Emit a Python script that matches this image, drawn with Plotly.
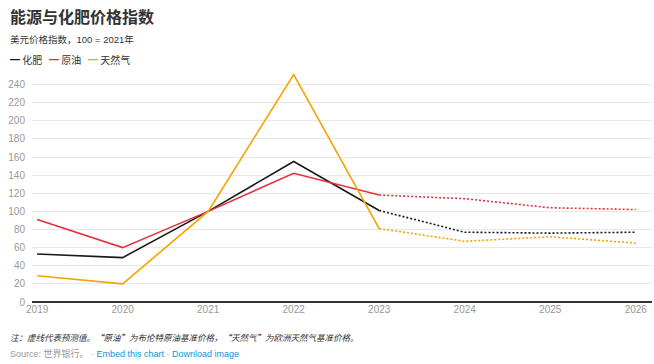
import plotly.graph_objects as go

years = [2019, 2020, 2021, 2022, 2023, 2024, 2025, 2026]
fertilizer = [53, 49, 100, 155, 101, 77, 76, 77]
crude_oil = [91, 60, 100, 142, 118, 114, 104, 102]
natural_gas = [29, 20, 100, 251, 81, 67, 72, 65]
y_ticks = [0, 20, 40, 60, 80, 100, 120, 140, 160, 180, 200, 220, 240]
forecast_start = 4  # index of 2023

series = [
    ("化肥", fertilizer, "#1a1a1a"),
    ("原油", crude_oil, "#e5303e"),
    ("天然气", natural_gas, "#f5a300"),
]

FONT = "Liberation Sans, Arial, Noto Sans CJK SC, sans-serif"
CJK = "Noto Sans CJK SC, Noto Sans, Arial, sans-serif"
W, H = 654, 364
ML, MR, MT, MB = 32, 2, 70, 62

fig = go.Figure()
for name, vals, color in series:
    fig.add_trace(go.Scatter(
        x=years[:forecast_start + 1], y=vals[:forecast_start + 1],
        mode="lines", name=name, line=dict(color=color, width=1.6),
        showlegend=False, hoverinfo="x+y+name"))
    fig.add_trace(go.Scatter(
        x=years[forecast_start:], y=vals[forecast_start:],
        mode="lines", name=name, line=dict(color=color, width=1.6, dash="2px,2px"),
        showlegend=False, hoverinfo="x+y+name"))

fig.update_layout(
    width=W, height=H,
    margin=dict(l=ML, r=MR, t=MT, b=MB, autoexpand=False),
    paper_bgcolor="white", plot_bgcolor="white",
    font=dict(family=FONT, size=10, color="#999999"),
    xaxis=dict(
        range=[2018.94, 2026.19], tickvals=years, ticktext=[str(y) for y in years],
        showgrid=False, zeroline=False, showline=False, ticks="",
        tickfont=dict(size=10, color="#999999"), automargin=False,
    ),
    yaxis=dict(
        range=[0, 256], tickvals=y_ticks, showgrid=True, gridcolor="#e8e8e8",
        gridwidth=1, zeroline=True, zerolinecolor="#333333", zerolinewidth=1.5,
        showline=False, ticks="", tickfont=dict(size=10, color="#999999"),
        ticklabelstandoff=6, automargin=False,
    ),
    showlegend=False,
)

# positions given as page pixels (left edge, vertical centre)
annotations = [
    dict(text="<b>能源与化肥价格指数</b>", x=10, y=16,
         font=dict(family=CJK, size=16, color="#333333")),
    dict(text="美元价格指数，100 = 2021年", x=10, y=40,
         font=dict(family=FONT, size=9.5, color="#333333")),
    dict(text=("<span style='color:#1a1a1a'>━</span> 化肥   "
               "<span style='color:#e5303e'>━</span> 原油   "
               "<span style='color:#f5a300'>━</span> 天然气"),
         x=10, y=60, font=dict(family=CJK, size=10, color="#333333")),
    dict(text="<i>注：虚线代表预测值。“原油”为布伦特原油基准价格，“天然气”为欧洲天然气基准价格。</i>",
         x=10, y=337, font=dict(family=CJK, size=8.5, color="#333333")),
    dict(text=("Source: 世界银行。 · <span style='color:#1a8fd0'>Embed this chart</span>"
               " · <span style='color:#1a8fd0'>Download image</span>"),
         x=10, y=353, font=dict(family=FONT, size=9, color="#999999")),
]
pw, ph = W - ML - MR, H - MT - MB
for a in annotations:
    fx = a["x"] - 2
    fy = a["y"]
    fig.add_annotation(
        text=a["text"], x=(fx - ML) / pw, y=(H - MB - fy) / ph,
        xref="paper", yref="paper", xanchor="left", yanchor="middle",
        showarrow=False, font=a["font"],
    )

fig.write_html("out.html", config={"displayModeBar": False},
               post_script="document.body.style.margin='0px';document.body.style.overflow='hidden';")
